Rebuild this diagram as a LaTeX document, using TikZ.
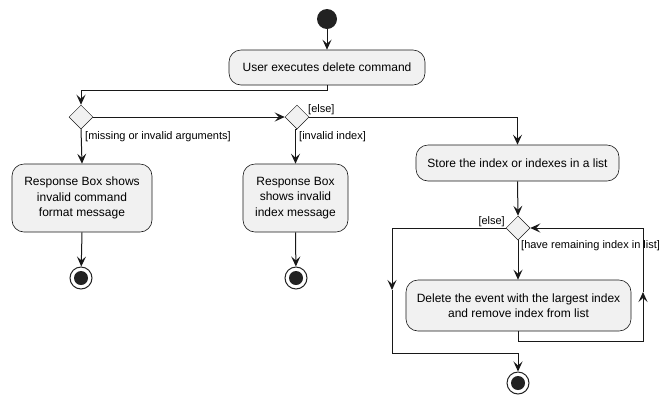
\documentclass[tikz,border=0pt]{standalone}
\usepackage{fontspec}
\setmainfont{Liberation Sans}
\usetikzlibrary{shapes.geometric,arrows.meta,calc}
\definecolor{boxfill}{HTML}{F1F1F1}
\definecolor{lc}{HTML}{181818}
\definecolor{dot}{HTML}{222222}
\tikzset{
  act/.style={draw=lc,fill=boxfill,rounded corners=12bp,line width=0.6bp,align=center,inner sep=0pt,font=\fontsize{12bp}{15.5bp}\selectfont},
  dec/.style={diamond,draw=lc,fill=boxfill,line width=0.5bp,minimum width=24bp,minimum height=24bp,inner sep=0pt},
  startdot/.style={circle,fill=dot,minimum size=20bp,inner sep=0pt},
  enddot/.style={circle,draw=dot,line width=1bp,fill=white,minimum size=22bp,inner sep=0pt,path picture={\fill[dot] (path picture bounding box.center) circle (7bp);}},
  arr/.style={draw=lc,line width=1bp,-{Stealth[length=10bp,width=9bp,inset=4bp]}},
  ln/.style={draw=lc,line width=1bp},
  lbl/.style={font=\fontsize{11bp}{13bp}\selectfont,inner sep=0pt}
}
\begin{document}
\begin{tikzpicture}[x=1bp,y=-1bp]
\useasboundingbox (0,0) rectangle (668,405);
\node[startdot] (start) at (327,19) {};
\node[act,minimum width=196bp,minimum height=35bp] (a1) at (327,67.5) {User executes delete command};
\node[dec] (d1) at (81,117) {};
\node[dec] (d2) at (297,117) {};
\node[act,minimum width=140bp,minimum height=68bp] (b1) at (82,198) {Response Box shows\\invalid command\\format message};
\node[act,minimum width=105bp,minimum height=68bp] (b2) at (295.5,198) {Response Box\\shows invalid\\index message};
\node[enddot] (e1) at (81,278) {};
\node[enddot] (e2) at (296,278) {};
\node[act,minimum width=203bp,minimum height=36bp] (s) at (517.5,163) {Store the index or indexes in a list};
\node[dec] (d3) at (518,228) {};
\node[act,minimum width=225bp,minimum height=51bp] (del) at (518.5,305.5) {Delete the event with the largest index\\and remove index from list};
\node[enddot] (e3) at (518,383) {};

\coordinate (j1) at (327,90);
\coordinate (l1) at (392,228);
\coordinate (l2) at (392,290);
\coordinate (l3) at (392,353);
\coordinate (l4) at (518,353);
\coordinate (r1) at (518,341);
\coordinate (r2) at (643,341);
\coordinate (r3) at (643,292);
\coordinate (r4) at (643,228);

\draw[arr] (start) -- (a1);
\draw[arr] (a1.south) -- (j1) -| (d1.north);
\draw[arr] (d1.east) -- (d2.west);
\draw[arr] (d2.east) -| (s.north);
\draw[arr] (d1.south) -- (b1.north);
\draw[arr] (d2.south) -- (b2.north|-d2.south) -- (b2.north);
\draw[arr] (b1.south) -- (e1);
\draw[arr] (b2.south) -- (e2);
\draw[arr] (s.south) -- (d3.north);
\draw[arr] (d3.south) -- (del.north-|d3.south);
\draw[arr] (d3.west) -- (l1) -- (l2);
\draw[arr] (l2) -- (l3) -- (l4) -- (e3.north);
\draw[arr] (del.south-|r1) -- (r1) -- (r2) -- (r3);
\draw[arr] (r3) -- (r4) -- (d3.east);

\node[lbl,anchor=west] (t1) at (85,137) {[missing or invalid arguments]};
\node[lbl,anchor=west] (t2) at (299,137) {[invalid index]};
\node[lbl,anchor=west] (t3) at (308,110) {[else]};
\node[lbl,anchor=east] (t4) at (505,222) {[else]};
\node[lbl,anchor=west] (t5) at (521,246) {[have remaining index in list]};
\end{tikzpicture}
\end{document}
